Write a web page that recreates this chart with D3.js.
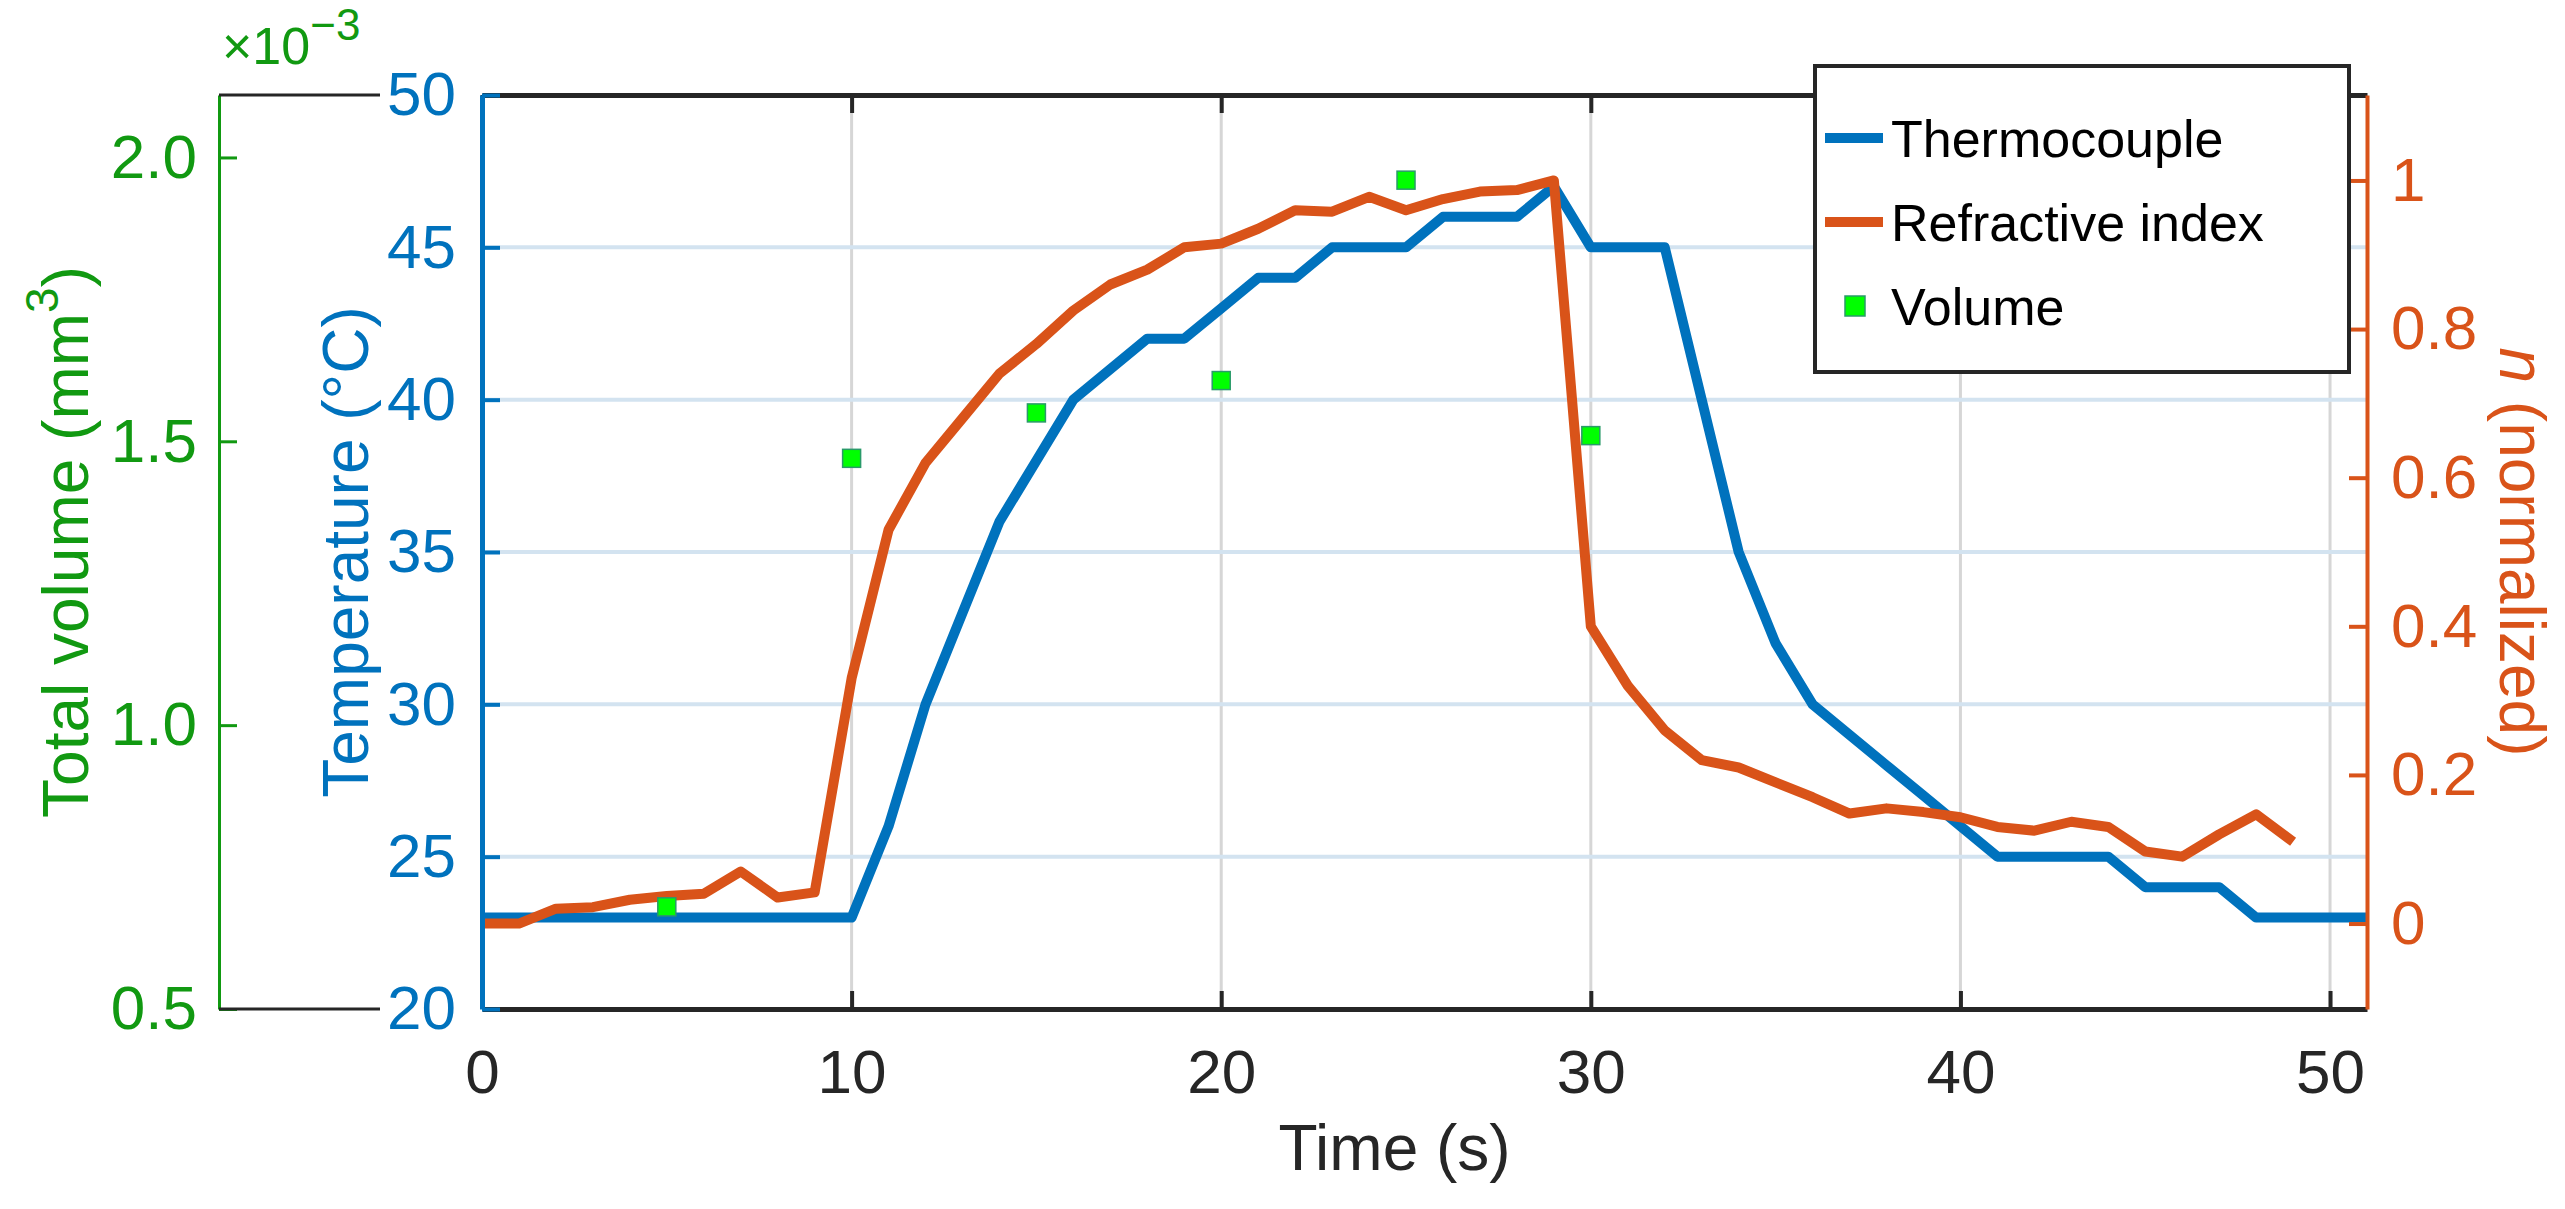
<!doctype html>
<html>
<head>
<meta charset="utf-8">
<script src="https://cdn.jsdelivr.net/npm/d3@7"></script>
<style>body{margin:0;background:#fff;} text{font-family:"Liberation Sans",Arial,sans-serif;}</style>
</head>
<body>
<script>
// data
var tempTime = d3.range(0, 52);
var tempVals = [23,23,23,23,23,23,23,23,23,23,23,26,30,33,36,38,40,41,42,42,43,44,44,45,45,45,46,46,46,47,45,45,45,40,35,32,30,29,28,27,26,25,25,25,25,24,24,24,23,23,23,23];
var nTime = d3.range(0, 50);
var nVals = [0,0,0.02,0.022,0.032,0.037,0.04,0.07,0.035,0.042,0.33,0.53,0.62,0.68,0.74,0.78,0.825,0.86,0.88,0.91,0.915,0.935,0.96,0.958,0.978,0.96,0.975,0.985,0.987,1.0,0.4,0.32,0.26,0.22,0.21,0.19,0.17,0.148,0.155,0.15,0.143,0.13,0.125,0.137,0.13,0.097,0.09,0.12,0.147,0.11];
var volTime = [5,10,15,20,25,30];
var volVals = [0.68,1.47,1.55,1.607,1.96,1.51];
var xTicks = [0,10,20,30,40,50];
var tempTicks = [20,25,30,35,40,45,50];
var nTicks = [0,0.2,0.4,0.6,0.8,1];
var volTicks = [0.5,1,1.5,2];

var W = 2565, H = 1209;
var L = 482, R = 2367, T = 95, B = 1009, GX = 219;
var blue = "#0072BD", orange = "#D95319", green = "#119911";
var fs = 62;

var svg = d3.select("body").append("svg").attr("width", W).attr("height", H);

var x = d3.scaleLinear().domain([0, 51]).range([L, R]);
var yT = d3.scaleLinear().domain([20, 50]).range([B, T]);
var yN = d3.scaleLinear().domain([-0.115, 1.115]).range([B, T]);
var yV = d3.scaleLinear().domain([0.5, 2.11]).range([B, T]);

// grid
svg.append("g").selectAll("line").data(xTicks.slice(1)).enter().append("line")
  .attr("x1", x).attr("x2", x).attr("y1", T).attr("y2", B)
  .attr("stroke", "#d6d6d6").attr("stroke-width", 3);
svg.append("g").selectAll("line").data(tempTicks.slice(1, -1)).enter().append("line")
  .attr("x1", L).attr("x2", R).attr("y1", yT).attr("y2", yT)
  .attr("stroke", "#d3e3f0").attr("stroke-width", 4);

// lines
svg.append("path").datum(tempTime.map(function(t, i){ return [t, tempVals[i]]; }))
  .attr("d", d3.line().x(function(d){ return x(d[0]); }).y(function(d){ return yT(d[1]); }))
  .attr("fill", "none").attr("stroke", blue).attr("stroke-width", 10).attr("stroke-linejoin", "round");
svg.append("path").datum(nTime.map(function(t, i){ return [t, nVals[i]]; }))
  .attr("d", d3.line().x(function(d){ return x(d[0]); }).y(function(d){ return yN(d[1]); }))
  .attr("fill", "none").attr("stroke", orange).attr("stroke-width", 10).attr("stroke-linejoin", "round");
svg.append("g").selectAll("rect").data(volTime).enter().append("rect")
  .attr("x", function(d){ return x(d) - 9; }).attr("y", function(d, i){ return yV(volVals[i]) - 9; })
  .attr("width", 18).attr("height", 18).attr("fill", "#00ff00").attr("stroke", "#2a9a6a").attr("stroke-width", 1.5);

// top / bottom black axes
var bottomAx = svg.append("g").attr("transform", "translate(0," + B + ")")
  .call(d3.axisBottom(x).tickValues(xTicks).tickSize(-18).tickPadding(40).tickSizeOuter(0));
bottomAx.select(".domain").attr("stroke", "#262626").attr("stroke-width", 5);
bottomAx.selectAll(".tick line").attr("stroke", "#262626").attr("stroke-width", 4);
bottomAx.selectAll("text").attr("font-size", fs).attr("fill", "#262626");
var topAx = svg.append("g").attr("transform", "translate(0," + T + ")")
  .call(d3.axisTop(x).tickValues(xTicks).tickSize(-18).tickFormat("").tickSizeOuter(0));
topAx.select(".domain").attr("stroke", "#262626").attr("stroke-width", 5);
topAx.selectAll(".tick line").attr("stroke", "#262626").attr("stroke-width", 4);

// left temperature axis
var la = svg.append("g").attr("transform", "translate(" + L + ",0)")
  .call(d3.axisLeft(yT).tickValues(tempTicks).tickSize(-18).tickPadding(26).tickSizeOuter(0));
la.select(".domain").attr("stroke", blue).attr("stroke-width", 5);
la.selectAll(".tick line").attr("stroke", blue).attr("stroke-width", 4);
la.selectAll("text").attr("font-size", fs).attr("fill", blue);

// right n axis
var ra = svg.append("g").attr("transform", "translate(" + R + ",0)")
  .call(d3.axisRight(yN).tickValues(nTicks).tickSize(-18).tickPadding(24).tickSizeOuter(0)
    .tickFormat(function(d){ return d === 0 || d === 1 ? d : d.toFixed(1); }));
ra.select(".domain").attr("stroke", orange).attr("stroke-width", 4);
ra.selectAll(".tick line").attr("stroke", orange).attr("stroke-width", 4);
ra.selectAll("text").attr("font-size", fs).attr("fill", orange);

// green volume axis
var ga = svg.append("g").attr("transform", "translate(" + GX + ",0)")
  .call(d3.axisLeft(yV).tickValues(volTicks).tickSize(-18).tickPadding(22).tickSizeOuter(0));
ga.select(".domain").attr("stroke", green).attr("stroke-width", 3);
ga.selectAll(".tick line").attr("stroke", green).attr("stroke-width", 3);
ga.selectAll("text").attr("font-size", fs).attr("fill", green);
[T, B].forEach(function(yy){
  svg.append("line").attr("x1", GX).attr("x2", 380).attr("y1", yy).attr("y2", yy)
    .attr("stroke", "#262626").attr("stroke-width", 3);
});
var ex = svg.append("text").attr("x", 222).attr("y", 64).attr("font-size", 52).attr("fill", green);
ex.append("tspan").text("\u00d710");
ex.append("tspan").attr("dy", -24).attr("font-size", 44).text("\u22123");

// axis titles
svg.append("text").attr("x", (L + R) / 2 - 30).attr("y", 1170).attr("text-anchor", "middle")
  .attr("font-size", fs + 2).attr("fill", "#262626").text("Time (s)");
svg.append("text").attr("transform", "translate(368," + (T + B) / 2 + ") rotate(-90)")
  .attr("text-anchor", "middle").attr("font-size", fs + 2).attr("fill", blue).text("Temperature (\u00b0C)");
var gt = svg.append("text").attr("transform", "translate(88," + ((T + B) / 2 - 10) + ") rotate(-90)")
  .attr("text-anchor", "middle").attr("font-size", fs + 2).attr("fill", green);
gt.append("tspan").text("Total volume (mm");
gt.append("tspan").attr("dy", -30).attr("font-size", 46).text("3");
gt.append("tspan").attr("dy", 30).text(")");
var nt = svg.append("text").attr("transform", "translate(2500," + (T + B) / 2 + ") rotate(90)")
  .attr("text-anchor", "middle").attr("font-size", fs + 2).attr("fill", orange);
nt.append("tspan").attr("font-style", "italic").text("n");
nt.append("tspan").text(" (normalized)");

// legend
var legItems = [
  {name: "Thermocouple", type: "line", color: blue},
  {name: "Refractive index", type: "line", color: orange},
  {name: "Volume", type: "marker", color: "#00ff00"}
];
var lg = svg.append("g").attr("transform", "translate(1815,66)");
lg.append("rect").attr("width", 534).attr("height", 306).attr("fill", "#fff")
  .attr("stroke", "#262626").attr("stroke-width", 4);
legItems.forEach(function(d, i){
  var yy = 72 + i * 84;
  if (d.type === "line") {
    lg.append("line").attr("x1", 10).attr("x2", 68).attr("y1", yy).attr("y2", yy)
      .attr("stroke", d.color).attr("stroke-width", 10);
  } else {
    lg.append("rect").attr("x", 30).attr("y", yy - 10).attr("width", 20).attr("height", 20)
      .attr("fill", d.color).attr("stroke", "#2a9a6a").attr("stroke-width", 1.5);
  }
  lg.append("text").attr("x", 76).attr("y", yy + 19).attr("font-size", 52).attr("fill", "#000").text(d.name);
});
</script>
</body>
</html>
